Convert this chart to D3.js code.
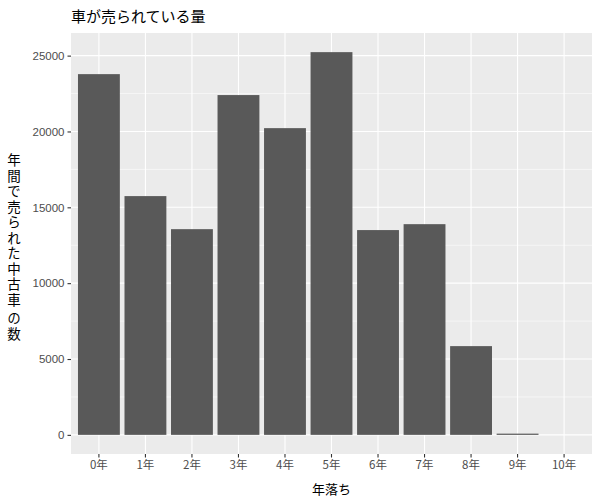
<!DOCTYPE html>
<html>
<head>
<meta charset="utf-8">
<script src="https://cdn.jsdelivr.net/npm/d3@7"></script>
<style>
  body { margin: 0; background: #fff; }
  svg { display: block; }
</style>
</head>
<body>
<svg id="chart" width="600" height="500"></svg>
<script>
const categories = ["0年", "1年", "2年", "3年", "4年", "5年", "6年", "7年", "8年", "9年", "10年"];
const soldCounts = [23780, 15740, 13560, 22400, 20220, 25230, 13500, 13890, 5850, 80, 0];
const yTicks = [0, 5000, 10000, 15000, 20000, 25000];
const titleText = "車が売られている量";
const xTitle = "年落ち";
const yTitle = "年間で売られた中古車 の数";

const svg = d3.select("#chart");
const W = 600, H = 500;
const panel = { left: 71, right: 592, top: 33, bottom: 454 };
const fontJP = "'Noto Sans CJK JP', 'Liberation Sans', sans-serif";
const fontNum = "'Liberation Sans', 'Noto Sans CJK JP', sans-serif";

svg.append("rect").attr("width", W).attr("height", H).attr("fill", "#fff");

// scales (ggplot-like expansion)
const maxV = d3.max(soldCounts);
const pad = maxV * 0.05;
const y = d3.scaleLinear().domain([-pad, maxV + pad]).range([panel.bottom, panel.top]);
const n = categories.length;
const xc = d3.scaleLinear().domain([-0.6, n - 1 + 0.6]).range([panel.left, panel.right]);
const x = d3.scaleBand().domain(categories)
  .range([xc(-0.5), xc(n - 0.5)]).paddingInner(0.1).paddingOuter(0.05);

// panel background
svg.append("rect")
  .attr("x", panel.left).attr("y", panel.top)
  .attr("width", panel.right - panel.left).attr("height", panel.bottom - panel.top)
  .attr("fill", "#ebebeb");

const g = svg.append("g");

// minor grid
const minorTicks = [];
for (let i = 0; i < yTicks.length; i++) {
  minorTicks.push(yTicks[i] - 2500);
}
minorTicks.push(yTicks[yTicks.length - 1] + 2500);
minorTicks.filter(v => y(v) >= panel.top && y(v) <= panel.bottom).forEach(v => {
  g.append("line").attr("x1", panel.left).attr("x2", panel.right)
    .attr("y1", y(v)).attr("y2", y(v))
    .attr("stroke", "#fff").attr("stroke-width", 0.55);
});
// major grid
yTicks.forEach(v => {
  g.append("line").attr("x1", panel.left).attr("x2", panel.right)
    .attr("y1", y(v)).attr("y2", y(v))
    .attr("stroke", "#fff").attr("stroke-width", 1.1);
});
categories.forEach(c => {
  const cx = x(c) + x.bandwidth() / 2;
  g.append("line").attr("x1", cx).attr("x2", cx)
    .attr("y1", panel.top).attr("y2", panel.bottom)
    .attr("stroke", "#fff").attr("stroke-width", 1.1);
});

// bars
g.selectAll("rect.bar").data(categories.map((c, i) => ({ c, v: soldCounts[i] })))
  .enter().append("rect").attr("class", "bar")
  .attr("x", d => x(d.c))
  .attr("width", x.bandwidth())
  .attr("y", d => y(d.v))
  .attr("height", d => y(0) - y(d.v))
  .attr("fill", "#595959");

// y axis
const yAxis = d3.axisLeft(y).tickValues(yTicks).tickSize(3.5).tickPadding(3).tickFormat(d3.format("d"));
const ya = svg.append("g").attr("transform", `translate(${panel.left},0)`).call(yAxis);
ya.select(".domain").remove();
ya.selectAll(".tick line").attr("stroke", "#333").attr("stroke-width", 1.1);
ya.selectAll(".tick text").attr("fill", "#4d4d4d").style("font-family", fontNum).style("font-size", "11.5px");

// x axis
const xAxis = d3.axisBottom(x).tickSize(3.5).tickPadding(3);
const xa = svg.append("g").attr("transform", `translate(0,${panel.bottom})`).call(xAxis);
xa.select(".domain").remove();
xa.selectAll(".tick line").attr("stroke", "#333").attr("stroke-width", 1.1);
xa.selectAll(".tick text").attr("fill", "#4d4d4d").style("font-family", fontJP).style("font-size", "11.5px");

// title
svg.append("text").attr("x", panel.left).attr("y", 22)
  .style("font-family", fontJP).style("font-size", "15px").attr("fill", "#000")
  .text(titleText);

// x title
svg.append("text").attr("x", (panel.left + panel.right) / 2).attr("y", 494)
  .attr("text-anchor", "middle")
  .style("font-family", fontJP).style("font-size", "13px").attr("fill", "#000")
  .text(xTitle);

// y title: vertical writing, upright glyphs; the space is kept but narrow
const yParts = yTitle.split(" ");
const yt = svg.append("text")
  .attr("x", 14).attr("y", 248)
  .attr("text-anchor", "middle")
  .style("writing-mode", "vertical-rl")
  .style("text-orientation", "upright")
  .style("letter-spacing", "2px")
  .style("font-family", fontJP).style("font-size", "13.5px").attr("fill", "#000");
yParts.forEach((part, i) => {
  if (i > 0) yt.append("tspan").style("font-size", "3px").style("letter-spacing", "0px").text(" ");
  yt.append("tspan").text(part);
});
</script>
</body>
</html>
